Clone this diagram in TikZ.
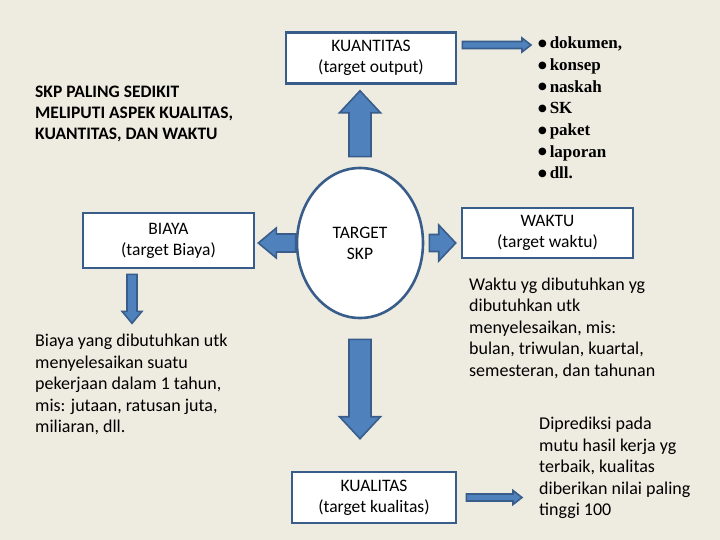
\documentclass[tikz,border=0pt]{standalone}
\usepackage{fontspec}
\setmainfont{Carlito}
\newfontfamily\listfont{Liberation Serif}
\newfontfamily\symfont{DejaVu Sans}
\usetikzlibrary{shapes.geometric,calc}
\definecolor{bgbeige}{HTML}{EEECE1}
\definecolor{boxedge}{HTML}{385D8A}
\definecolor{arrowfill}{HTML}{4F81BD}
\newcommand{\dotitem}{\raisebox{2.2pt}{\symfont\fontsize{10}{10}\selectfont ●}\,}

% block arrow: from, to (tip), half shaft, half head, head length
\newcommand{\blockarrow}[5]{%
  \coordinate (ba-h) at ($(#2)!#5!(#1)$);
  \draw[blockarr] ($(#1)!#3!90:(#2)$) -- ($(ba-h)!#3!-90:(#1)$)
    -- ($(ba-h)!#4!-90:(#1)$) -- (#2) -- ($(ba-h)!#4!90:(#1)$)
    -- ($(ba-h)!#3!90:(#1)$) -- ($(#1)!#3!-90:(#2)$) -- cycle;}

\begin{document}
\begin{tikzpicture}[x=1pt,y=-1pt,
  txt/.style={align=left, inner sep=0pt, font=\fontsize{18}{21.5}\selectfont},
  boxnode/.style={draw=boxedge, fill=white, line width=2.6pt, align=center, inner sep=0pt, font=\fontsize{17.5}{21}\selectfont},
  blockarr/.style={draw=boxedge, fill=arrowfill, line width=1.6pt, line join=miter}]
\fill[bgbeige] (0,0) rectangle (720,540);

\node[boxnode, minimum width=170pt, minimum height=51pt] (kuan) at (371,58) {KUANTITAS\\(target output)};
\node[boxnode, minimum width=171pt, minimum height=55pt] (biaya) at (168.5,240.5) {BIAYA\\(target Biaya)};
\node[boxnode, minimum width=171pt, minimum height=50pt] (waktu) at (547.5,233) {WAKTU\\(target waktu)};
\node[boxnode, minimum width=164pt, minimum height=51pt] (kual) at (374,497.5) {KUALITAS\\(target kualitas)};
\node[boxnode, ellipse, minimum width=126pt, minimum height=150pt] (target) at (360,243) {TARGET\\SKP};

\node[txt, anchor=west, font=\bfseries\fontsize{17.5}{21}\selectfont] (skp) at (35,114) {SKP PALING SEDIKIT\\MELIPUTI ASPEK KUALITAS,\\KUANTITAS, DAN WAKTU};
\node[txt, anchor=west, font=\listfont\bfseries\fontsize{17}{21.7}\selectfont] (list) at (538,108)
  {\dotitem dokumen,\\\dotitem konsep\\\dotitem naskah\\\dotitem SK\\\dotitem paket\\\dotitem laporan\\\dotitem dll.};
\node[txt, anchor=west] (biayatxt) at (35,384.5) {Biaya yang dibutuhkan utk\\menyelesaikan suatu\\pekerjaan dalam 1 tahun,\\mis: jutaan, ratusan juta,\\miliaran, dll.};
\node[txt, anchor=west] (waktutxt) at (469,328) {Waktu yg dibutuhkan yg\\dibutuhkan utk\\menyelesaikan, mis:\\bulan, triwulan, kuartal,\\semesteran, dan tahunan};
\node[txt, anchor=west] (predtxt) at (539,468) {Diprediksi pada\\mutu hasil kerja yg\\terbaik, kualitas\\diberikan nilai paling\\tinggi 100};

\coordinate (up-a) at ([yshift=10pt]target.north);
\coordinate (up-b) at ([yshift=-6pt]target.north |- kuan.south);
\blockarrow{up-a}{up-b}{11pt}{20.5pt}{22pt}
\coordinate (rt-a) at ([xshift=5pt]target.east);
\coordinate (rt-b) at ([xshift=-5pt]waktu.west |- target.east);
\blockarrow{rt-a}{rt-b}{8.5pt}{18pt}{17pt}
\coordinate (lf-b) at ([xshift=3pt]biaya.east |- target.west);
\blockarrow{target.west}{lf-b}{9pt}{15pt}{18pt}
\coordinate (dn-a) at ([yshift=-20pt]target.south);
\coordinate (dn-b) at ([yshift=32pt]target.south |- kual.north);
\blockarrow{dn-a}{dn-b}{11pt}{20.5pt}{22pt}
\coordinate (by-a) at ($(biaya.south)+(-36.5,5)$);
\coordinate (by-b) at ($(biaya.south)+(-36.5,54)$);
\blockarrow{by-a}{by-b}{5pt}{10pt}{12pt}
\coordinate (kn-a) at ([xshift=5pt]kuan.east);
\coordinate (kn-b) at ([xshift=-7pt]list.west |- kn-a);
\coordinate (kn-a) at ([yshift=13pt]kn-a);
\coordinate (kn-b) at ([yshift=13pt]kn-b);
\blockarrow{kn-a}{kn-b}{3.5pt}{7pt}{9pt}
\coordinate (kl-a) at ([xshift=9pt]kual.east);
\coordinate (kl-b) at ([xshift=-17pt]predtxt.west |- kl-a);
\blockarrow{kl-a}{kl-b}{3.5pt}{7pt}{9pt}
\end{tikzpicture}
\end{document}
